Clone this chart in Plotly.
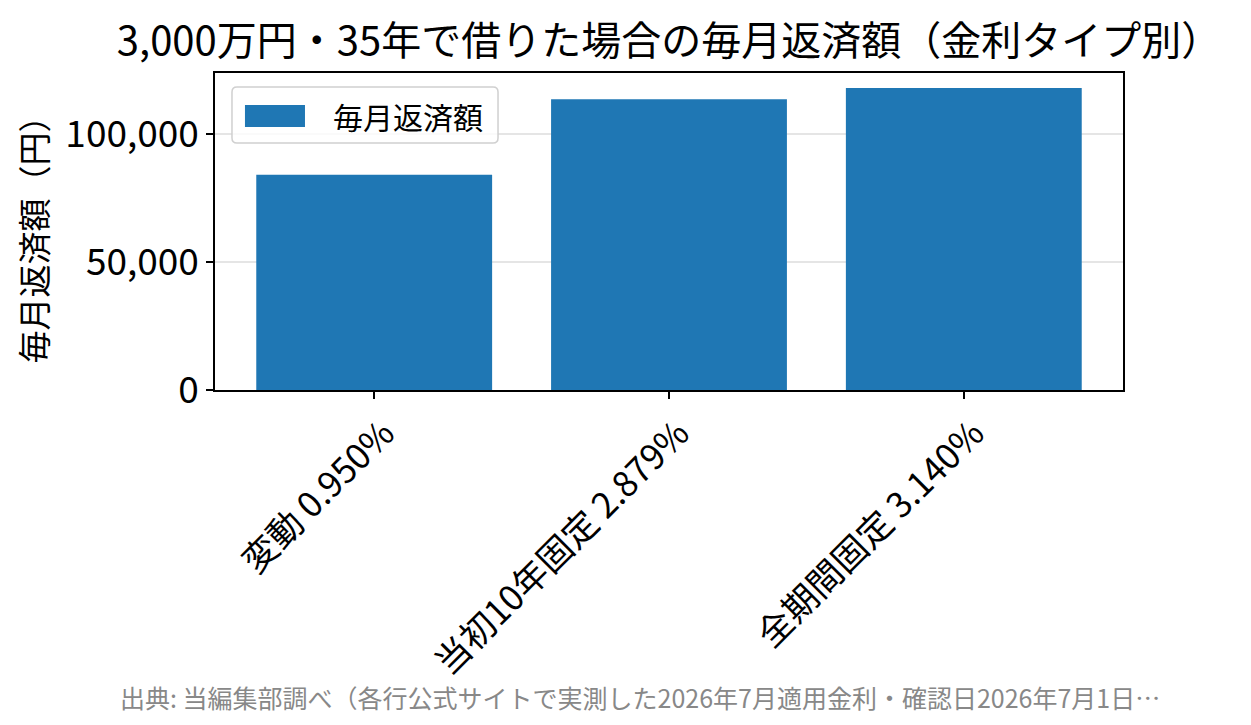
import plotly.graph_objects as go

# 金利タイプ別の毎月返済額（3,000万円・35年）
categories = ["変動 0.950%", "当初10年固定 2.879%", "全期間固定 3.140%"]
monthly_payment = [83979, 113438, 117810]
y_ticks = [0, 50000, 100000]
series_name = "毎月返済額"

FONT = "Noto Sans CJK JP"
BAR_COLOR = "#1f77b4"


def rounded_rect(x0, y0, x1, y1, rx, ry):
    """紙座標で角丸四角形の SVG パスを作る"""
    return (
        f"M{x0 + rx},{y0} L{x1 - rx},{y0} Q{x1},{y0} {x1},{y0 + ry} "
        f"L{x1},{y1 - ry} Q{x1},{y1} {x1 - rx},{y1} "
        f"L{x0 + rx},{y1} Q{x0},{y1} {x0},{y1 - ry} "
        f"L{x0},{y0 + ry} Q{x0},{y0} {x0 + rx},{y0} Z"
    )


fig = go.Figure()
fig.add_trace(
    go.Bar(
        x=categories,
        y=monthly_payment,
        name=series_name,
        marker={"color": BAR_COLOR, "line": {"width": 0}},
        width=0.8,
        showlegend=False,
    )
)

# 凡例（matplotlib 風の横長スウォッチ）
legend_shapes = [
    {
        "type": "path",
        "xref": "paper",
        "yref": "paper",
        "path": rounded_rect(0.0187, 0.779, 0.3117, 0.9558, 0.0055, 0.0158),
        "line": {"color": "#d0d0d0", "width": 1.5},
        "fillcolor": "rgba(255,255,255,0.8)",
        "layer": "above",
    },
    {
        "type": "rect",
        "xref": "paper",
        "yref": "paper",
        "x0": 0.033,
        "x1": 0.0991,
        "y0": 0.8297,
        "y1": 0.899,
        "line": {"width": 0},
        "fillcolor": BAR_COLOR,
        "layer": "above",
    },
]

# ページ余白 8px を差し引いたサイズ
fig.update_layout(
    width=1243,
    height=717,
    margin={"l": 207, "r": 128, "t": 65, "b": 335},
    paper_bgcolor="white",
    plot_bgcolor="white",
    font={"family": FONT, "color": "black", "size": 28},
    showlegend=False,
    title={
        "text": "3,000万円・35年で借りた場合の毎月返済額（金利タイプ別）",
        "font": {"size": 40, "family": FONT},
        "x": 0.5,
        "xanchor": "center",
        "xref": "paper",
        "y": 1 - 33 / 717,
        "yanchor": "middle",
        "yref": "container",
    },
    shapes=legend_shapes,
    annotations=[
        {
            "text": series_name,
            "xref": "paper",
            "yref": "paper",
            "x": 0.128,
            "y": 0.864,
            "xanchor": "left",
            "yanchor": "middle",
            "showarrow": False,
            "font": {"size": 30, "color": "black", "family": FONT},
        },
        {
            "text": "出典: 当編集部調べ（各行公式サイトで実測した2026年7月適用金利・確認日2026年7月1日…",
            "xref": "paper",
            "yref": "paper",
            "x": 0.468,
            "y": (382 - 689) / 317,
            "xanchor": "center",
            "yanchor": "middle",
            "showarrow": False,
            "font": {"size": 25, "color": "#888888", "family": FONT},
        },
    ],
)

fig.update_xaxes(
    range=[-0.54, 2.54],
    tickangle=-45,
    ticks="outside",
    ticklen=7,
    tickwidth=1.5,
    tickcolor="black",
    showline=True,
    linecolor="black",
    linewidth=1.5,
    mirror=True,
    showgrid=False,
    tickfont={"size": 35},
    ticklabelshift=10,
)
fig.update_yaxes(
    range=[0, 123700],
    tickvals=y_ticks,
    tickformat=",",
    ticks="outside",
    ticklen=7,
    tickwidth=1.5,
    tickcolor="black",
    showline=True,
    linecolor="black",
    linewidth=1.5,
    mirror=True,
    showgrid=True,
    gridcolor="rgba(0,0,0,0.1)",
    gridwidth=1.5,
    zeroline=False,
    tickfont={"size": 37},
    title={"text": "毎月返済額（円）", "font": {"size": 33}, "standoff": 8},
)

fig.write_html("out.html")
